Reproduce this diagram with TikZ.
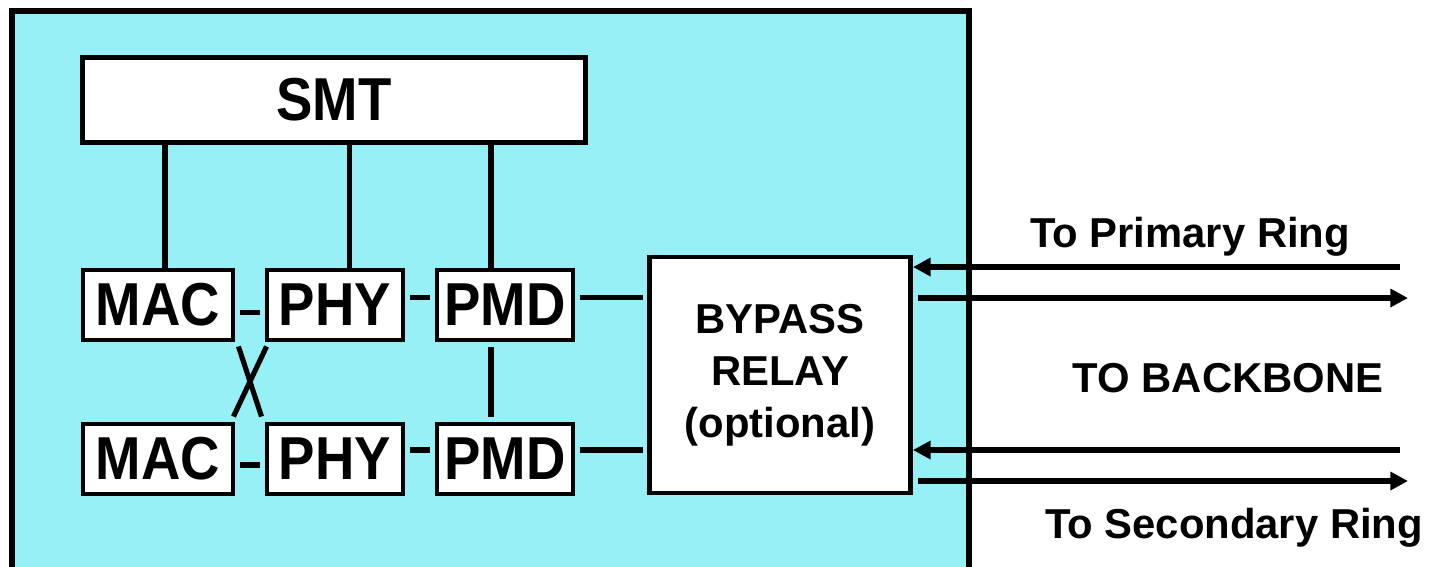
\documentclass[tikz,border=0pt]{standalone}
\usepackage{fontspec}
\setmainfont{Liberation Sans}
\newfontfamily\labelfont{Liberation Sans}[FakeStretch=0.9]
\usepackage{tikz}
\usetikzlibrary{arrows.meta, positioning, calc}
\usepackage{xcolor}
\definecolor{cStation}{RGB}{150,240,245}
\tikzset{
  basebox/.style={rectangle, draw=black, line width=2.8pt, fill=white,
                  align=center, inner sep=0pt},
  layernode/.style={basebox, minimum width=136*0.02cm, minimum height=70*0.02cm,
                    font=\labelfont\fontsize{34.5}{40}\selectfont\bfseries},
  smtnode/.style={basebox, minimum width=503*0.02cm, minimum height=85*0.02cm,
                  font=\labelfont\fontsize{34.5}{40}\selectfont\bfseries},
  relaynode/.style={basebox, minimum width=261*0.02cm, minimum height=236*0.02cm,
                    font=\fontsize{23.8}{29.5}\selectfont\bfseries},
  ringlabel/.style={font=\fontsize{23.8}{28}\selectfont\bfseries, inner sep=0pt},
  link/.style={line width=2.9pt, color=black},
  gaplink/.style={link, shorten <=2.5pt, shorten >=2.5pt},
  ringarrow/.style={-{Triangle[length=10pt, width=10pt]}, line width=2.9pt, color=black}
}
\begin{document}
\begin{tikzpicture}[x=0.02cm, y=-0.02cm]

  \useasboundingbox (0,0) rectangle (1439,566);
  \clip (0,0) rectangle (1439,566);

  % Station frame
  \draw[line width=3.2pt, fill=cStation] (12,11) rectangle (969,600);

  % Management
  \node[smtnode] (smt) at (334,100) {SMT};

  % Primary path
  \node[layernode, minimum width=150*0.02cm] (mac1) at (158,305) {MAC};
  \node[layernode] (phy1) at (335,305) {PHY};
  \node[layernode] (pmd1) at (505,305) {PMD};

  % Secondary path
  \node[layernode, minimum width=150*0.02cm] (mac2) at (158,459) {MAC};
  \node[layernode] (phy2) at (335,459) {PHY};
  \node[layernode] (pmd2) at (505,459) {PMD};

  % Relay
  \node[relaynode] (bypass) at (780,375) {BYPASS\\RELAY\\(optional)};

  % Backbone end points
  \coordinate (pin)  at (1400,267);
  \coordinate (pout) at (1408,298);
  \coordinate (sin)  at (1400,450);
  \coordinate (sout) at (1408,481);

  % Ring labels
  \node[ringlabel] (lprim) at (1190,237) {To Primary Ring};
  \node[ringlabel] (lback) at (1228,378) {TO BACKBONE};
  \node[ringlabel] (lsec)  at (1234,528) {To Secondary Ring};

  % SMT links
  \draw[link] ([xshift=0.14cm]mac1.north) -- ([xshift=0.14cm]mac1.north |- smt.south);
  \draw[link] ([xshift=0.29cm]phy1.north) -- ([xshift=0.29cm]phy1.north |- smt.south);
  \draw[link] ([xshift=-0.28cm]pmd1.north) -- ([xshift=-0.28cm]pmd1.north |- smt.south);

  % Row links
  \draw[gaplink] ([yshift=-0.15cm]mac1.east) -- ([yshift=-0.15cm]mac1.east -| phy1.west);
  \draw[gaplink] ([yshift=0.15cm]phy1.east) -- ([yshift=0.15cm]phy1.east -| pmd1.west);
  \draw[gaplink] ([yshift=0.15cm]pmd1.east) -- ([yshift=0.15cm]pmd1.east -| bypass.west);
  \draw[gaplink] ([yshift=-0.12cm]mac2.east) -- ([yshift=-0.12cm]mac2.east -| phy2.west);
  \draw[gaplink] ([yshift=0.18cm]phy2.east) -- ([yshift=0.18cm]phy2.east -| pmd2.west);
  \draw[gaplink] ([yshift=0.18cm]pmd2.east) -- ([yshift=0.18cm]pmd2.east -| bypass.west);
  \draw[gaplink] ([xshift=-0.28cm]pmd1.south) -- ([xshift=-0.28cm]pmd2.north);

  % Cross-over
  \draw[link] ($(mac1.south east)+(3,4)$) -- ($(phy2.north west)+(-3,-5)$);
  \draw[link] ($(phy1.south west)+(2,4)$) -- ($(mac2.north east)+(-2,-5)$);

  % Backbone arrows
  \draw[ringarrow] (pin) -- (pin -| bypass.east);
  \draw[ringarrow] ($(bypass.east |- pout)+(5,0)$) -- (pout);
  \draw[ringarrow] (sin) -- (sin -| bypass.east);
  \draw[ringarrow] ($(bypass.east |- sout)+(5,0)$) -- (sout);

\end{tikzpicture}
\end{document}
